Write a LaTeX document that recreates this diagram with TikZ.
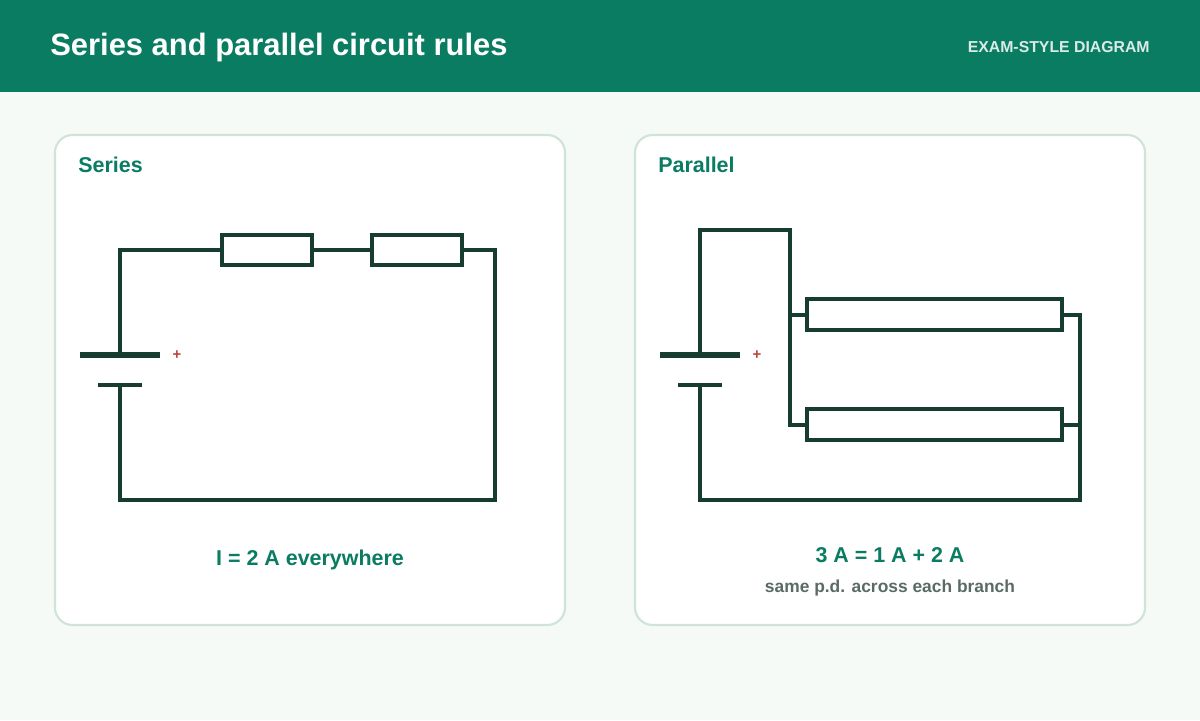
\documentclass[tikz,border=0pt]{standalone}
\usepackage{fontspec}
\setmainfont{Liberation Sans}
\usepackage{xcolor}
\definecolor{headgreen}{HTML}{0A7C62}
\definecolor{pagebg}{HTML}{F5FAF7}
\definecolor{panelline}{HTML}{CFE3DA}
\definecolor{wirecol}{HTML}{173D32}
\definecolor{labgreen}{HTML}{0A7C62}
\definecolor{notegray}{HTML}{5A6B65}
\definecolor{plusred}{HTML}{C0443C}
\tikzset{
  panel/.style={draw=panelline, line width=1.2pt, fill=white, rounded corners=10pt},
  wire/.style={draw=wirecol, line width=2.3pt},
  resistor/.style={draw=wirecol, line width=2.3pt, fill=white},
  plate/.style={draw=wirecol, line width=3pt},
  title/.style={font=\bfseries\fontsize{12.2}{14}\selectfont, text=labgreen, inner sep=0pt},
  note/.style={font=\bfseries\fontsize{9.9}{12}\selectfont, text=notegray},
  plus/.style={font=\bfseries\fontsize{8.5}{9}\selectfont, text=plusred}
}
\begin{document}
\begin{tikzpicture}[x=0.02cm, y=-0.02cm]
    \useasboundingbox (0,0) rectangle (1200,720);

    % Background and header
    \fill[pagebg] (0,0) rectangle (1200,720);
    \fill[headgreen] (0,0) rectangle (1200,92);
    \node[anchor=west, inner sep=0pt, text=white, font=\bfseries\fontsize{17.6}{20}\selectfont] (head) at (50,48) {Series and parallel circuit rules};
    \node[anchor=east, inner sep=0pt, text=white!85!headgreen, font=\bfseries\fontsize{9}{11}\selectfont] (tag) at (1150,47) {EXAM-STYLE DIAGRAM};

    % Panels
    \draw[panel] (55,135) rectangle (565,625);
    \draw[panel] (635,135) rectangle (1145,625);
    \node[title, anchor=west] (stitle) at (78,165) {Series};
    \node[title, anchor=west] (ptitle) at (658,165) {Parallel};

    % Series circuit
    \coordinate (sa) at (120,250);
    \coordinate (sb) at (495,250);
    \coordinate (sc) at (495,500);
    \coordinate (sd) at (120,500);
    \coordinate (sp) at (120,355);
    \coordinate (sn) at (120,385);
    \draw[wire] (sp) -- (sa) -- (sb) -- (sc) -- (sd) -- (sn);
    \draw[resistor] (222,235) rectangle (312,265);
    \draw[resistor] (372,235) rectangle (462,265);
    \draw[plate] (80,355) -- (160,355);
    \draw[wire] (98,385) -- (142,385);
    \node[plus] (splus) at (177,355) {+};
    \node[title] (slab) at (310,560) {I = 2 A everywhere};

    % Parallel circuit
    \coordinate (pa) at (700,230);
    \coordinate (pb) at (790,230);
    \coordinate (pc) at (790,425);
    \coordinate (pd) at (1080,315);
    \coordinate (pe) at (1080,500);
    \coordinate (pf) at (700,500);
    \coordinate (pp) at (700,355);
    \coordinate (pn) at (700,385);
    \draw[wire] (pp) -- (pa) -- (pb) -- (pc) -- (807,425);
    \draw[wire] (790,315) -- (807,315);
    \draw[wire] (1062,315) -- (pd) -- (pe) -- (pf) -- (pn);
    \draw[wire] (1062,425) -- (1080,425);
    \draw[resistor] (807,299) rectangle (1062,330);
    \draw[resistor] (807,409) rectangle (1062,440);
    \draw[plate] (660,355) -- (740,355);
    \draw[wire] (678,385) -- (722,385);
    \node[plus] (pplus) at (757,355) {+};
    \node[title] (plab) at (890,555) {3 A = 1 A + 2 A};
    \node[note] (pnote) at (890,588) {same p.d. across each branch};

\end{tikzpicture}
\end{document}
